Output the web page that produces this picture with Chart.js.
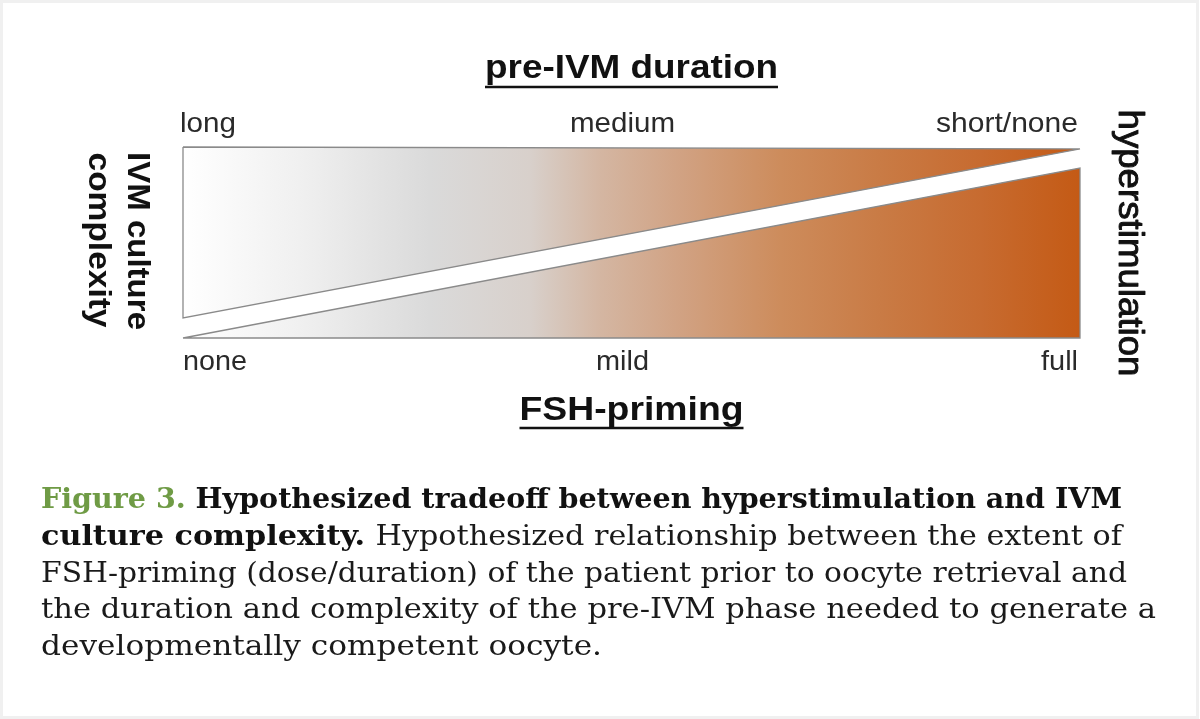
<!DOCTYPE html>
<html>
<head>
<meta charset="utf-8">
<script src="https://cdn.jsdelivr.net/npm/chart.js@4.4.1/dist/chart.umd.min.js"></script>
<style>
  html, body { margin: 0; padding: 0; background: #ffffff; }
  #wrap { position: relative; width: 1200px; height: 719px; }
</style>
</head>
<body>
<div id="wrap"><canvas id="c"></canvas></div>
<script>
// ---- data ----
const topAxisTitle = 'pre-IVM duration';
const bottomAxisTitle = 'FSH-priming';
const leftAxisTitle = ['IVM culture', 'complexity'];
const rightAxisTitle = 'hyperstimulation';
const topTickLabels = ['long', 'medium', 'short/none'];
const bottomTickLabels = ['none', 'mild', 'full'];
const tickPositions = [0, 0.49, 1];
// upper triangle (IVM culture complexity), closed polygon
const upperX = [0, 1, 0, 0];
const upperY = [1, 0.99, 0.105, 1];
// lower triangle (hyperstimulation), closed polygon
const lowerX = [0, 1, 1, 0];
const lowerY = [0, 0, 0.89, 0];
const captionLines = [
  [{t: 'Figure 3. ', s: 'g'}, {t: 'Hypothesized tradeoff between hyperstimulation and IVM', s: 'b'}],
  [{t: 'culture complexity. ', s: 'b'}, {t: 'Hypothesized relationship between the extent of', s: 'r'}],
  [{t: 'FSH-priming (dose/duration) of the patient prior to oocyte retrieval and', s: 'r'}],
  [{t: 'the duration and complexity of the pre-IVM phase needed to generate a', s: 'r'}],
  [{t: 'developmentally competent oocyte.', s: 'r'}]
];

const toPoints = (xs, ys) => xs.map((x, i) => ({x: x, y: ys[i]}));

function gradientFill(context) {
  const chart = context.chart;
  const area = chart.chartArea;
  if (!area) return '#dddddd';
  const g = chart.ctx.createLinearGradient(area.left, 0, area.right, 0);
  g.addColorStop(0.00, '#ffffff');
  g.addColorStop(0.13, '#f0f0f0');
  g.addColorStop(0.275, '#dadada');
  g.addColorStop(0.387, '#d8d0cb');
  g.addColorStop(0.465, '#d4b6a2');
  g.addColorStop(0.554, '#d1a283');
  g.addColorStop(0.666, '#cd8c5c');
  g.addColorStop(0.777, '#c97b45');
  g.addColorStop(0.889, '#c76b30');
  g.addColorStop(1.00, '#c45a15');
  return g;
}

function drawFit(ctx, text, x, y, font, width, align, color, thicken) {
  ctx.save();
  ctx.font = font;
  ctx.fillStyle = color;
  ctx.textBaseline = 'alphabetic';
  const w = ctx.measureText(text).width;
  const sx = width / w;
  ctx.translate(x, y);
  ctx.scale(sx, 1);
  ctx.textAlign = align;
  ctx.fillText(text, 0, 0);
  if (thicken) {
    ctx.strokeStyle = color;
    ctx.lineWidth = thicken;
    ctx.lineJoin = 'round';
    ctx.strokeText(text, 0, 0);
  }
  ctx.restore();
}

const labelPlugin = {
  id: 'labels',
  afterDraw(chart) {
    const ctx = chart.ctx;
    const xs = chart.scales.x;
    const sans = '"Liberation Sans", Arial, Helvetica, sans-serif';
    const dark = '#2a2a2a';

    // frame
    ctx.save();
    ctx.strokeStyle = '#f0f0f0';
    ctx.lineWidth = 3;
    ctx.strokeRect(1.5, 1.5, 1196, 716);
    ctx.restore();

    // titles with underline
    const cx = (xs.getPixelForValue(0) + xs.getPixelForValue(1)) / 2;
    drawFit(ctx, topAxisTitle, cx, 78, 'bold 34px ' + sans, 293, 'center', '#111');
    drawFit(ctx, bottomAxisTitle, cx, 420, 'bold 33px ' + sans, 224, 'center', '#111');
    ctx.save();
    ctx.strokeStyle = '#111';
    ctx.lineWidth = 2.5;
    ctx.beginPath();
    ctx.moveTo(cx - 146.5, 87); ctx.lineTo(cx + 146.5, 87);
    ctx.moveTo(cx - 112, 428); ctx.lineTo(cx + 112, 428);
    ctx.stroke();
    ctx.restore();

    // tick labels
    const aligns = ['left', 'center', 'right'];
    const topW = [56, 105, 142];
    const botW = [64, 53, 37];
    const offs = [-3, 0, -2];
    tickPositions.forEach((v, i) => {
      const px = xs.getPixelForValue(v) + offs[i];
      drawFit(ctx, topTickLabels[i], px, 132, '28px ' + sans, topW[i], aligns[i], dark);
      drawFit(ctx, bottomTickLabels[i], px + (i === 0 ? 3 : 0), 370, '28px ' + sans, botW[i], aligns[i], dark);
    });

    // rotated side titles
    function rot(text, bx, cy, font, len, thicken) {
      ctx.save();
      ctx.translate(bx, cy);
      ctx.rotate(Math.PI / 2);
      drawFit(ctx, text, 0, 0, font, len, 'center', '#111', thicken);
      ctx.restore();
    }
    rot(leftAxisTitle[0], 128, 241, 'bold 31px ' + sans, 178);
    rot(leftAxisTitle[1], 89, 240, 'bold 31px ' + sans, 175);
    rot(rightAxisTitle, 1119, 243, '35px ' + sans, 267, 0.9);

    // caption
    const serif = '"DejaVu Serif", "Liberation Serif", serif';
    const fonts = {g: 'bold 28px ' + serif, b: 'bold 28px ' + serif, r: '28px ' + serif};
    const colors = {g: '#6f9b45', b: '#111111', r: '#1a1a1a'};
    const baselines = [508, 545, 582, 618, 655];
    const ends = [1122, 1122, 1127, 1156, 602];
    const left = 41;
    captionLines.forEach((segs, li) => {
      ctx.save();
      let total = 0;
      segs.forEach(s => { ctx.font = fonts[s.s]; total += ctx.measureText(s.t).width; });
      const sx = (ends[li] - left) / total;
      ctx.translate(left, baselines[li]);
      ctx.scale(sx, 1);
      ctx.textAlign = 'left';
      ctx.textBaseline = 'alphabetic';
      let x = 0;
      segs.forEach(s => {
        ctx.font = fonts[s.s];
        ctx.fillStyle = colors[s.s];
        ctx.fillText(s.t, x, 0);
        x += ctx.measureText(s.t).width;
      });
      ctx.restore();
    });
  }
};

new Chart(document.getElementById('c'), {
  type: 'scatter',
  data: {
    datasets: [
      {
        label: 'IVM culture complexity',
        data: toPoints(upperX, upperY),
        showLine: true,
        fill: 'shape',
        backgroundColor: gradientFill,
        borderColor: '#8a8a8a',
        borderWidth: 1.3,
        pointRadius: 0,
        tension: 0,
        clip: false
      },
      {
        label: 'hyperstimulation',
        data: toPoints(lowerX, lowerY),
        showLine: true,
        fill: 'shape',
        backgroundColor: gradientFill,
        borderColor: '#8a8a8a',
        borderWidth: 1.3,
        pointRadius: 0,
        tension: 0,
        clip: false
      }
    ]
  },
  options: {
    responsive: true,
    maintainAspectRatio: false,
    animation: false,
    layout: { padding: { left: 183, right: 120, top: 147, bottom: 381 } },
    scales: {
      x: { type: 'linear', min: 0, max: 1, display: false },
      y: { type: 'linear', min: 0, max: 1, display: false }
    },
    plugins: {
      legend: { display: false },
      tooltip: { enabled: false }
    }
  },
  plugins: [labelPlugin]
});
</script>
</body>
</html>
